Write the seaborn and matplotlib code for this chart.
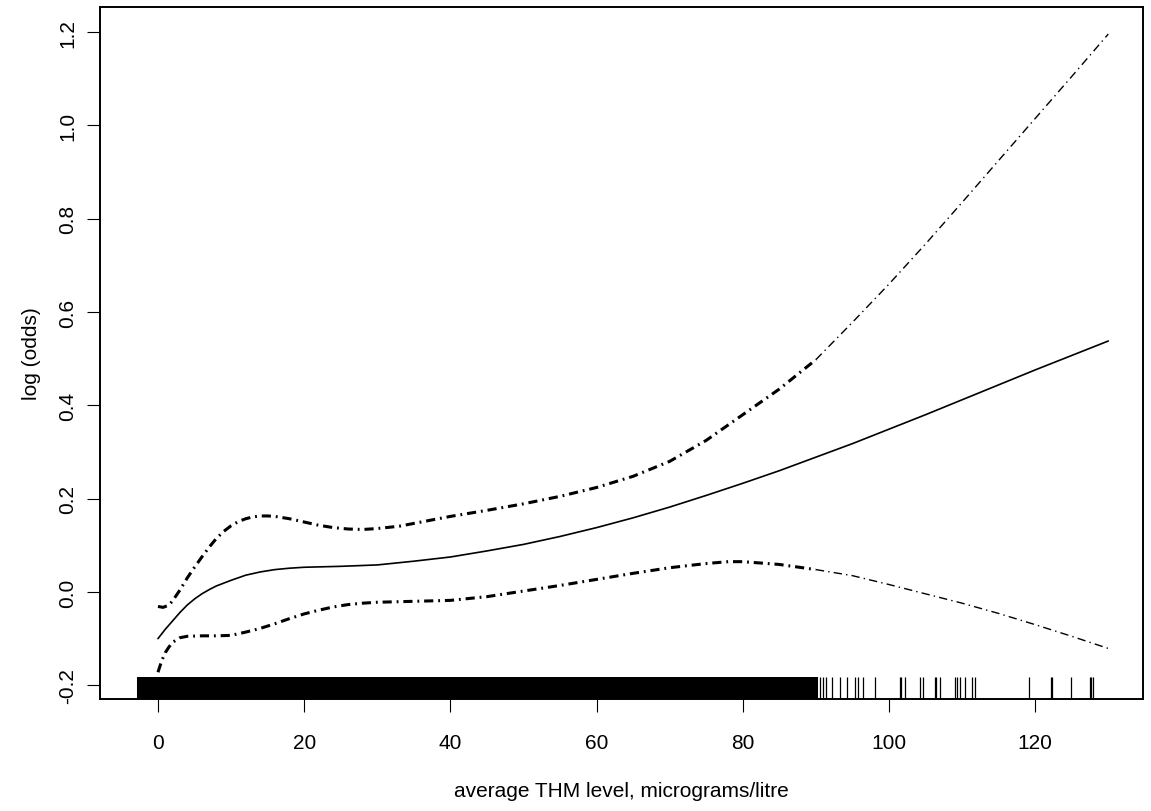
import numpy as np
import pandas as pd
import matplotlib
matplotlib.use("Agg")
import matplotlib.pyplot as plt
import seaborn as sns

# ---------------- data ----------------
fit_x = [0, 1, 2, 3, 4, 5, 6, 7, 8, 10, 12, 14, 16, 18, 20, 25, 30, 35, 40, 45, 50,
         55, 60, 65, 70, 75, 80, 85, 90, 95, 100, 105, 110, 115, 120, 125, 130]
fit_y = [-0.100, -0.080, -0.062, -0.044, -0.028, -0.015, -0.004, 0.005, 0.013, 0.025,
         0.036, 0.043, 0.048, 0.051, 0.053, 0.055, 0.058, 0.066, 0.075, 0.088, 0.102,
         0.119, 0.138, 0.159, 0.182, 0.207, 0.233, 0.260, 0.289, 0.318, 0.349, 0.380,
         0.412, 0.444, 0.476, 0.507, 0.538]

upper_x = [0, 0.7, 1.5, 2, 3, 4, 5, 6, 7, 8, 9, 10, 11, 12, 13, 14, 15, 16, 18, 20, 22,
           24, 26, 28, 30, 33, 36, 40, 45, 50, 55, 60, 65, 70, 75, 80, 85, 90, 95, 100,
           105, 110, 115, 120, 125, 130]
upper_y = [-0.031, -0.033, -0.028, -0.019, 0.004, 0.030, 0.053, 0.075, 0.096, 0.115,
           0.130, 0.142, 0.151, 0.157, 0.161, 0.163, 0.163, 0.162, 0.157, 0.150, 0.143,
           0.138, 0.135, 0.134, 0.136, 0.141, 0.150, 0.162, 0.175, 0.189, 0.205, 0.224,
           0.248, 0.280, 0.325, 0.380, 0.435, 0.498, 0.578, 0.660, 0.746, 0.835, 0.925,
           1.015, 1.105, 1.196]

lower_x = [0, 0.5, 1, 1.5, 2, 3, 4, 6, 8, 10, 12, 14, 16, 18, 20, 22, 24, 26, 28, 30,
           35, 40, 45, 50, 55, 60, 65, 70, 75, 78, 80, 85, 90, 95, 100, 105, 110, 115,
           120, 125, 130]
lower_y = [-0.172, -0.148, -0.130, -0.118, -0.108, -0.098, -0.095, -0.094, -0.094,
           -0.093, -0.086, -0.078, -0.068, -0.057, -0.047, -0.039, -0.032, -0.027,
           -0.024, -0.022, -0.020, -0.018, -0.010, 0.002, 0.014, 0.027, 0.040, 0.052,
           0.061, 0.065, 0.065, 0.059, 0.048, 0.035, 0.016, -0.004, -0.024, -0.046,
           -0.070, -0.095, -0.121]

# rug: dense block of observations (read as solid black) and sparse observations
rug_dense = [-2.3, -1.3, -0.3, 0.7, 1.7, 2.7, 3.7, 4.7, 5.7, 6.7, 7.7, 8.7, 9.7,
             10.7, 11.7, 12.7, 13.7, 14.7, 15.7, 16.7, 17.7, 18.7, 19.7,
             20.7, 21.7, 22.7, 23.7, 24.7, 25.7, 26.7, 27.7, 28.7, 29.7,
             30.7, 31.7, 32.7, 33.7, 34.7, 35.7, 36.7, 37.7, 38.7, 39.7,
             40.7, 41.7, 42.7, 43.7, 44.7, 45.7, 46.7, 47.7, 48.7, 49.7,
             50.7, 51.7, 52.7, 53.7, 54.7, 55.7, 56.7, 57.7, 58.7, 59.7,
             60.7, 61.7, 62.7, 63.7, 64.7, 65.7, 66.7, 67.7, 68.7, 69.7,
             70.7, 71.7, 72.7, 73.7, 74.7, 75.7, 76.7, 77.7, 78.7, 79.7,
             80.7, 81.7, 82.7, 83.7, 84.7, 85.7, 86.7, 87.7, 88.7, 89.7]
rug_sparse = [90.6, 91.0, 91.4, 92.2, 93.3, 94.3, 95.4, 95.7, 96.4, 98.1, 101.5, 101.7,
              102.2, 104.2, 104.7, 106.3, 106.5, 107.0, 109.0, 109.3, 109.7, 110.4,
              111.4, 111.7, 119.1, 122.1, 122.3, 124.9, 127.5, 127.7, 127.9]

x_ticks = [0, 20, 40, 60, 80, 100, 120]
y_ticks = [-0.2, 0.0, 0.2, 0.4, 0.6, 0.8, 1.0, 1.2]
x_label = "average THM level, micrograms/litre"
y_label = "log (odds)"

# ---------------- style ----------------
sns.set_style("white")
plt.rcParams["font.family"] = ["Liberation Sans", "DejaVu Sans"]
plt.rcParams["axes.unicode_minus"] = False
plt.rcParams["text.color"] = "black"
plt.rcParams["axes.labelcolor"] = "black"
plt.rcParams["xtick.color"] = "black"
plt.rcParams["ytick.color"] = "black"

fig = plt.figure(figsize=(11.51, 8.12), dpi=100)
ax = fig.add_axes([100 / 1151, 1 - 700 / 812, 1043 / 1151, 692 / 812])

fit_df = pd.DataFrame({"x": fit_x, "y": fit_y})
up_df = pd.DataFrame({"x": upper_x, "y": upper_y})
lo_df = pd.DataFrame({"x": lower_x, "y": lower_y})

sns.lineplot(data=fit_df, x="x", y="y", ax=ax, color="black", lw=1.2,
             sort=False, estimator=None)

split = 90
for df in (up_df, lo_df):
    left = df[df["x"] <= split]
    right = df[df["x"] >= split]
    sns.lineplot(data=left, x="x", y="y", ax=ax, color="black", lw=2.2,
                 sort=False, estimator=None)
    ax.lines[-1].set_dashes((3.0, 1.6, 0.6, 1.6))
    sns.lineplot(data=right, x="x", y="y", ax=ax, color="black", lw=1.0,
                 sort=False, estimator=None)
    ax.lines[-1].set_dashes((6, 3, 1, 3))

sns.rugplot(x=rug_dense, ax=ax, height=22 / 692, color="black", linewidth=5.8,
            expand_margins=False)
sns.rugplot(x=rug_sparse, ax=ax, height=22 / 692, color="black", linewidth=0.9,
            expand_margins=False)

ax.set_xlim(-7.93, 134.75)
ax.set_ylim(-0.2294, 1.254)
ax.set_xticks(x_ticks)
ax.set_xticklabels([str(v) for v in x_ticks])
ax.set_yticks(y_ticks)
ax.set_yticklabels([f"{v:.1f}" for v in y_ticks])

ax.tick_params(axis="both", direction="out", length=9.5, width=0.8, color="black",
               labelcolor="black", labelsize=15, bottom=True, left=True)
ax.tick_params(axis="x", pad=15)
ax.tick_params(axis="y", pad=7)
for lab in ax.get_yticklabels():
    lab.set_rotation(90)
    lab.set_va("center")

for sp in ax.spines.values():
    sp.set_visible(True)
    sp.set_color("black")
    sp.set_linewidth(1.4)

ax.set_xlabel(x_label, fontsize=15, labelpad=21, color="black")
ax.set_ylabel(y_label, fontsize=15, labelpad=12, color="black")

fig.savefig("out.png", dpi=100, facecolor="white")
